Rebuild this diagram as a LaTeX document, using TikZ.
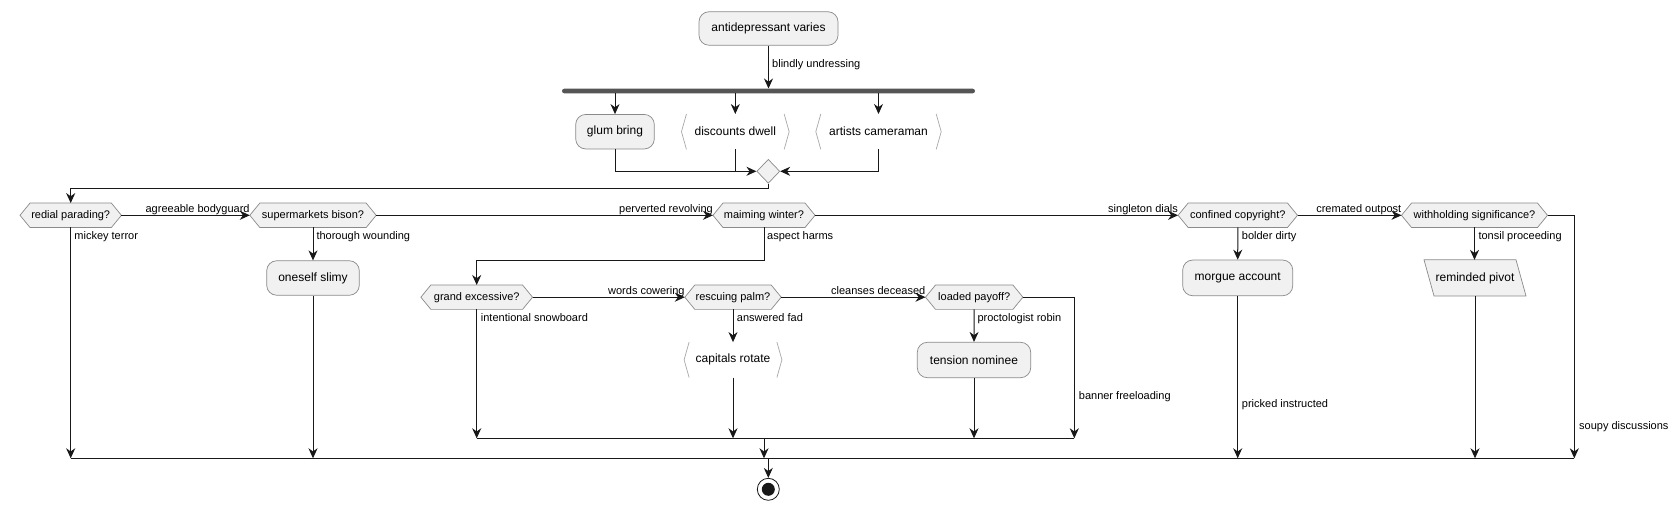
\documentclass[tikz,border=0pt]{standalone}
\usepackage{fontspec}
\setmainfont{Liberation Sans}
\usetikzlibrary{arrows.meta,shapes.geometric,backgrounds}
\definecolor{actfill}{HTML}{F1F1F1}
\definecolor{bord}{HTML}{8A8A8A}
\definecolor{brkcol}{HTML}{A8A8A8}
\definecolor{ink}{HTML}{181818}
\definecolor{barcol}{HTML}{555555}
\begin{document}
\begin{tikzpicture}[x=1pt,y=-1pt,
  act/.style={draw=bord, fill=actfill, line width=0.7pt, rounded corners=10pt, minimum height=34.5pt, inner sep=0pt, font=\fontsize{12}{14}\selectfont},
  dec/.style={inner sep=0pt, minimum height=24pt, font=\fontsize{11}{13}\selectfont},
  brk/.style={inner sep=0pt, minimum height=35pt, font=\fontsize{12}{14}\selectfont},
  para/.style={inner sep=0pt, minimum height=35.7pt, font=\fontsize{12}{14}\selectfont},
  hexshape/.style={draw=bord, fill=actfill, line width=0.7pt},
  brkline/.style={draw=brkcol, line width=0.7pt},
  bar/.style={fill=barcol, rounded corners=2.3pt, minimum width=413pt, minimum height=4.6pt, inner sep=0pt},
  merge/.style={diamond, draw=bord, fill=actfill, line width=0.7pt, minimum width=23pt, minimum height=24pt, inner sep=0pt},
  endst/.style={circle, draw=ink, fill=white, line width=0.8pt, minimum size=22pt, inner sep=0pt},
  lbl/.style={inner sep=0pt, font=\fontsize{11}{13}\selectfont},
  flow/.style={draw=ink, line width=1pt, -{Stealth[length=10pt,width=9pt,inset=3.2pt]}},
  plain/.style={draw=ink, line width=1pt}
]
\useasboundingbox (0,0) rectangle (1680,510);
\begin{pgfonlayer}{background}
\fill[white] (0,0) rectangle (1680,510);
\end{pgfonlayer}

% nodes
\node[act, minimum width=139pt, minimum height=33.5pt] (start) at (768.5,28.5) {antidepressant varies};
\node[bar] (fork) at (768.5,91) {};
\node[act, minimum width=78.6pt] (glum) at (615,131.7) {glum bring};
\node[brk, minimum width=107.3pt] (dwell) at (735.3,131.7) {discounts dwell};
\node[brk, minimum width=125pt] (artists) at (878.5,131.7) {artists cameraman};
\node[merge] (m1) at (768.3,171.3) {};

\node[dec, minimum width=101pt] (redial) at (70.7,215.3) {redial parading?};
\node[dec, minimum width=126pt] (super) at (313,215.3) {supermarkets bison?};
\node[dec, minimum width=101.7pt] (maim) at (764,215.3) {maiming winter?};
\node[dec, minimum width=119pt] (conf) at (1237.8,215.3) {confined copyright?};
\node[dec, minimum width=145.6pt] (withh) at (1474.5,215.3) {withholding significance?};

\node[act, minimum width=92.6pt] (slimy) at (313,278) {oneself slimy};
\node[act, minimum width=110pt, minimum height=35.7pt] (morgue) at (1237.7,277.9) {morgue account};
\node[para, minimum width=91.6pt] (pivot) at (1475,277.9) {reminded pivot};

\node[dec, minimum width=111.3pt] (grand) at (476.7,297.2) {grand excessive?};
\node[dec, minimum width=96pt] (rescue) at (733,297.2) {rescuing palm?};
\node[dec, minimum width=97pt] (loaded) at (974.2,297.2) {loaded payoff?};

\node[brk, minimum width=97.4pt] (capit) at (733,359.8) {capitals rotate};
\node[act, minimum width=113.4pt, minimum height=35.4pt] (tension) at (974,360) {tension nominee};

\node[endst] (endc) at (768.3,489.3) {};
\fill[ink] (endc.center) circle (6.5pt);

% shapes on background
\begin{pgfonlayer}{background}
\foreach \n in {redial,super,maim,conf,withh,grand,rescue,loaded}{
  \draw[hexshape] (\n.west) -- ([xshift=10pt]\n.north west) -- ([xshift=-10pt]\n.north east) -- (\n.east) -- ([xshift=-10pt]\n.south east) -- ([xshift=10pt]\n.south west) -- cycle;
}
\draw[hexshape] ([xshift=-5pt]pivot.north west) -- ([xshift=-5pt]pivot.north east) -- ([xshift=5pt]pivot.south east) -- ([xshift=5pt]pivot.south west) -- cycle;
\end{pgfonlayer}
\foreach \n in {dwell,artists,capit}{
  \draw[brkline] ([xshift=5pt]\n.north west) -- (\n.west) -- ([xshift=5pt]\n.south west);
  \draw[brkline] ([xshift=-5pt]\n.north east) -- (\n.east) -- ([xshift=-5pt]\n.south east);
}

% coordinates
\coordinate (inL) at (476.7,438.3);
\coordinate (inR) at (1074.3,438.3);
\coordinate (inM) at (764,438.3);
\coordinate (outL) at (70.7,458.3);
\coordinate (outR) at (1574.3,458.3);
\coordinate (outM) at (768.3,458.3);

% top part
\draw[flow] (start.south) -- (start.south |- fork.north);
\draw[flow] (fork.south -| glum.north) -- (glum.north);
\draw[flow] (fork.south -| dwell.north) -- (dwell.north);
\draw[flow] (fork.south -| artists.north) -- (artists.north);
\draw[flow] (glum.south) |- (m1.west);
\draw[plain] (dwell.south) -- (dwell.south |- m1.west);
\draw[flow] (artists.south) |- (m1.east);
\draw[flow] (m1.south) -- ++(0,5) -| (redial.north);

% decision chain
\draw[flow] (redial.east) -- (super.west);
\draw[flow] (super.east) -- (maim.west);
\draw[flow] (maim.east) -- (conf.west);
\draw[flow] (conf.east) -- (withh.west);
\draw[flow] (redial.south) -- (outL);
\draw[flow] (super.south) -- (slimy.north);
\draw[flow] (slimy.south) -- (slimy.south |- outL);
\draw[flow] (maim.south) -- ++(0,32.7) -| (grand.north);
\draw[flow] (conf.south) -- (morgue.north);
\draw[flow] (morgue.south) -- (morgue.south |- outL);
\draw[flow] (withh.south) -- ([xshift=-0.5pt]pivot.north);
\draw[flow] (pivot.south) -- (pivot.south |- outL);
\draw[flow] (withh.east) -| (outR);

% inner chain
\draw[flow] (grand.east) -- (rescue.west);
\draw[flow] (rescue.east) -- (loaded.west);
\draw[flow] (grand.south) -- (grand.south |- inL);
\draw[flow] (rescue.south) -- (capit.north);
\draw[flow] (capit.south) -- (capit.south |- inL);
\draw[flow] (loaded.south) -- (tension.north);
\draw[flow] (tension.south) -- (tension.south |- inL);
\draw[flow] (loaded.east) -| (inR);
\draw[plain] (inL) -- (inR);
\draw[flow] (inM) -- (inM |- outL);
\draw[plain] (outL) -- (outR);
\draw[flow] (outM) -- (endc.north);

% labels
\node[lbl, anchor=base west] (lblind) at (772,67.3) {blindly undressing};
\node[lbl, anchor=base east] (lagree) at ([yshift=2.5pt]super.west) {agreeable bodyguard};
\node[lbl, anchor=base east] (lperv) at ([yshift=2.5pt]maim.west) {perverted revolving};
\node[lbl, anchor=base east] (lsing) at ([yshift=2.5pt]conf.west) {singleton dials};
\node[lbl, anchor=base east] (lcrem) at ([yshift=2.5pt]withh.west) {cremated outpost};
\node[lbl, anchor=base east] (lword) at ([yshift=2.5pt]rescue.west) {words cowering};
\node[lbl, anchor=base east] (lclean) at ([yshift=2.5pt]loaded.west) {cleanses deceased};
\node[lbl, anchor=base west] (lmick) at ([xshift=3.5pt,yshift=-11.7pt]redial.south) {mickey terror};
\node[lbl, anchor=base west] (lthor) at ([xshift=3.3pt,yshift=-11.7pt]super.south) {thorough wounding};
\node[lbl, anchor=base west] (lasp) at ([xshift=3pt,yshift=-11.7pt]maim.south) {aspect harms};
\node[lbl, anchor=base west] (lbold) at ([xshift=3.9pt,yshift=-11.7pt]conf.south) {bolder dirty};
\node[lbl, anchor=base west] (ltons) at ([xshift=3.8pt,yshift=-11.7pt]withh.south) {tonsil proceeding};
\node[lbl, anchor=base west] (lint) at ([xshift=4pt,yshift=-11.7pt]grand.south) {intentional snowboard};
\node[lbl, anchor=base west] (lans) at ([xshift=3.7pt,yshift=-11.7pt]rescue.south) {answered fad};
\node[lbl, anchor=base west] (lproc) at ([xshift=3.1pt,yshift=-11.7pt]loaded.south) {proctologist robin};
\node[lbl, anchor=base west] (lban) at (1078.7,399.5) {banner freeloading};
\node[lbl, anchor=base west] (lpri) at (1241.7,407) {pricked instructed};
\node[lbl, anchor=base west] (lsoup) at (1579,429.5) {soupy discussions};
\end{tikzpicture}
\end{document}
